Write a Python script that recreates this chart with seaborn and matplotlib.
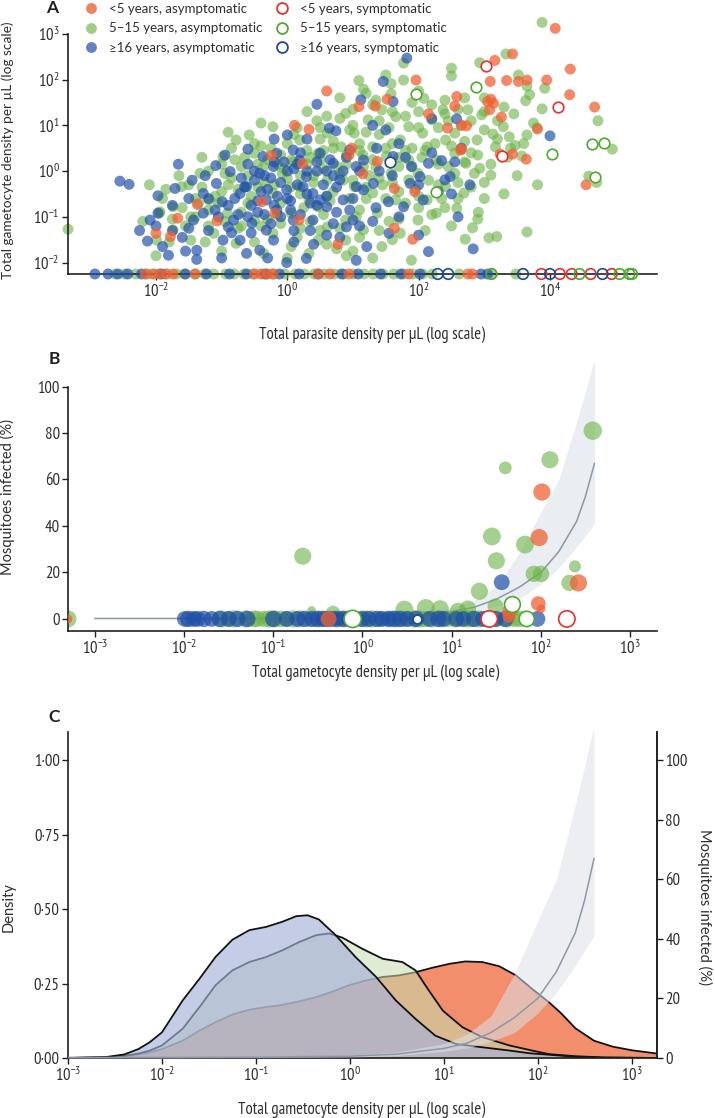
import numpy as np
import pandas as pd
import seaborn as sns
import matplotlib.pyplot as plt
from matplotlib import font_manager as fm
from matplotlib.lines import Line2D
from matplotlib.ticker import FixedLocator, FuncFormatter, NullLocator

# ---------------- data (log10 values) ----------------
# Panel A: total parasite density (x) vs total gametocyte density (y)
a_u5_x = [4.08, 3.43, 3.16, 4.31, 1.96, 0.6, 3.09, 3.34, 3.52, 3.65, 3.95, 4.30, 4.68, 3.10, 3.05, 3.14,
          3.08, 2.58, 2.55, 1.52, 1.34, 1.09, 2.15, 3.26, 3.81, 2.44, 2.65, 2.73, 0.11, 0.33, 3.43, 3.64,
          4.55, 2.65, 0.98, 0.23, -0.24, 1.15, 1.94, 1.63, -1.37, -1.67, -2.0, -1.78, -1.07, -0.39, -0.19,
          0.18, 1.63, 1.91, 0.77, 1.37, 2.64, 3.24, 0.94]
a_u5_y = [3.12, 2.56, 2.42, 2.23, 1.99, 1.75, 1.96, 1.98, 1.96, 1.99, 1.99, 1.67, 1.40, 1.57, 1.52, 1.48,
          1.34, 1.63, 1.42, 1.57, 1.42, 1.41, 1.25, 1.18, 0.92, 0.94, 1.0, 0.99, 1.0, 0.91, 0.37, 0.26,
          -0.30, 0.48, 0.50, 0.16, 0.34, -0.06, -0.45, -0.38, -0.73, -1.03, -1.36, -1.43, -1.09, -0.67, -0.92,
          -1.07, -1.25, -1.49, -1.60, 0.21, 0.46, 0.37, 0.35]
a_515_x = [3.88, 3.33, 2.93, 2.50, 2.50, 1.77, 1.77, 1.09, 1.16, 1.58, 1.58, 2.08, 3.52, 3.65, 3.69, 3.88,
           3.92, 3.63, 4.73, 4.95, 4.59, 4.71, 3.81, 3.65, 3.19, 3.07, 2.71, 2.91, 2.82, 2.58, 1.89, -3.34,
           3.65, 3.47, 3.57, 3.10, 2.93, 2.72, 3.13, 3.29, 3.38, 2.96, 2.75, 2.37, 2.20, 2.06, 2.41, 2.55,
           2.27, 1.85, 1.72, 1.65, 1.44, 1.23, 1.02, 0.89, 0.61, 0.82, 1.30, 1.51, 1.85, 1.65, 2.13, 2.41,
           2.27, 1.37, 1.16, 0.89, 0.47, 0.06, -0.36, -0.78, -1.12, -1.47, -1.74, -1.95, -1.61, -1.33, -0.98,
           -0.78, -0.58, -0.22, 0.19, 0.47, 0.06, -0.36, -0.64, -0.22, 0.19, 0.61, 1.02, 1.30, 0.47, 0.06,
           -0.50, -0.91, -1.19, 0.89, 0.61, 0.33, -0.08, -0.50, 0.75, 1.16, 1.58, 1.99, 2.55, 2.13, 2.55,
           1.85, 2.89, 3.17, 2.69, 1.99, 1.72, 1.44, 0.33, -0.22, -1.47, -1.74, -1.94, -1.99,
           -0.7, -0.4, 0.0, 0.3, 0.55, 0.9, 1.1, 1.4, 1.25, 0.95, 0.7, 0.2, -0.1, -0.6, -1.0, -1.35, -1.55,
           -0.3, 0.35, 1.1, 1.5, 1.9, 2.3, 2.0, 1.35, 0.45, -0.1, -0.85, 0.15, 1.7, 2.45, 2.8, 2.3, 1.55,
           0.75, -0.75, -1.25, -1.8, -1.2, 0.55, 2.65, 3.3, 3.0, 2.0, 1.3, 0.8, 0.5, 1.6,
           -1.5, -1.4, -1.2, -1.05, -0.95, -0.85, -0.7, -0.65, -0.55, -0.45, -0.35, -0.25, -0.15, -0.05,
           0.05, 0.1, 0.25, 0.35, 0.4, 0.55, 0.65, 0.7, 0.85, 0.95, 1.05, 1.15, 1.2, 1.35, 1.45, 1.55, 1.7,
           1.8, 1.95, 2.05, 2.15, 2.25, 2.35, 2.45, 2.6, 2.7, 2.85, 3.0, 3.2, 3.35, 3.0, 2.5, 2.1, 1.6, 1.0,
           0.6, 0.15, -0.5, -1.0, -1.65, -1.85, -2.2, -2.0, -1.3, -0.9, -0.4, 0.3, 0.6, 1.0, 1.2, 1.5, 1.9,
           2.4, 2.7, 3.45, 3.75, 3.5, 3.3, 2.9]
a_515_y = [3.25, 2.56, 2.37, 2.25, 2.08, 2.36, 1.99, 1.98, 1.79, 1.91, 1.69, 1.59, 2.10, 1.86, 1.67, 1.36,
           1.81, 1.54, 1.10, 0.48, -0.11, -0.25, -0.30, -1.33, -1.43, -1.46, -1.49, -0.90, -1.24, -0.81, -1.95,
           -1.27, 0.79, 0.56, 0.33, -0.09, 0.06, 0.17, 0.81, 0.97, 0.75, 1.23, 1.34, 1.34, 1.12, 0.83, 0.68,
           0.39, 0.24, 0.24, 0.68, 1.19, 1.34, 1.12, 0.83, 1.26, 0.83, 0.53, 0.53, 0.32, -0.19, -0.63, -0.63,
           -0.34, -0.92, -0.92, -1.29, -1.51, -1.51, -1.65, -1.80, -1.58, -1.36, -1.51, -1.29, -0.92, -0.34,
           -0.05, 0.32, 0.68, 0.79, 0.97, 0.68, 0.39, 0.24, 0.10, -0.34, -0.48, -0.34, -0.19, -0.34, -0.48,
           -0.78, -0.92, -1.07, -0.92, -0.63, -1.07, -1.22, -0.63, -0.05, 0.39, 0.10, 0.10, -0.05, -0.05,
           -0.05, 0.53, 0.83, 0.97, 0.68, 0.53, -0.48, -1.07, -1.36, -1.65, -1.80, -1.36, -1.0, -0.78, -0.89,
           -1.51, 0.1, 0.55, 0.6, 0.15, 0.45, 0.35, 0.6, 0.8, -0.1, -0.6, -0.45, -0.1, -0.7, -0.7, -0.45,
           -0.7, -1.2, -1.05, -1.1, -0.85, -0.6, 0.5, 0.95, 1.3, 1.55, 1.1, 0.35, -0.15, 0.95, 0.1, 0.1, 0.4,
           -0.3, -1.1, -1.7, -1.25, -1.55, -1.55, 0.0, -0.95, 1.0, 1.4, 1.6, 1.75, 1.45, 1.6, 0.7, 0.6,
           -0.3, -0.6, -1.2, -0.7, -0.05, 0.5, -0.9, 0.3, -0.55, 0.15, -0.25, 0.5, -0.95, 0.05,
           -0.35, 0.8, -0.8, 0.3, -0.25, 0.05, -0.65, 0.65, -0.2, 0.9, -1.0, 0.35, -0.6, 0.1, -0.3, 0.95, -0.45,
           0.45, -0.4, 0.3, -0.2, 0.6, -0.6, 1.1, -0.25, 0.65, -0.05, 0.9, 1.1, 0.3, -0.6, -1.2, -1.3, -1.5,
           -1.75, -1.6, -1.45, -1.55, -1.75, -0.1, -0.4, -1.1, -1.85, 0.3, 0.85, 1.05, 1.3, 1.2, 1.35, 1.7,
           2.1, 1.5, 1.55, 1.6, 1.25, 1.05, -0.1, -0.5, -1.05]
# denser core of the 5-15 cloud
a_515_core_x = [0.1, 0.3, 0.5, 0.7, 0.9, 1.1, 1.3, 1.5, 1.7, 1.9, 2.1, 2.3, 2.5, 2.7, 2.9, 3.1,
                0.2, 0.4, 0.6, 0.8, 1.0, 1.2, 1.4, 1.6, 1.8, 2.0, 2.2, 2.4, 2.6, 2.8, 3.0,
                0.5, 0.8, 1.0, 1.2, 1.4, 1.6, 1.8, 2.0, 2.2, 2.4, 2.6, 2.8, 3.0, 3.2, 3.4, 3.6, 3.8,
                -1.3, -1.1, -0.9, -0.75, -0.6, -0.45, -0.3, -0.15, 0.0, -1.0, -0.8, -0.5, -0.2,
                -1.6, -1.4, -1.2, -0.95, -0.7, -0.4, -0.1, 0.2, 0.5, 0.8, 1.1, 1.4, 1.7, 2.0,
                -1.9, -2.1, -1.75, 0.0, 0.9, 1.3]
a_515_core_y = [0.2, 0.45, 0.25, 0.5, 0.15, 0.45, 0.25, 0.5, 0.3, 0.1, 0.45, 0.15, 0.55, 0.2, 0.35, 0.15,
                -0.5, -0.1, -0.55, -0.05, -0.2, -0.35, -0.15, -0.25, -0.7, -0.55, -0.95, -0.8, -0.6, -0.35,
                -0.25, 0.95, 1.15, 1.0, 0.85, 1.1, 1.3, 1.2, 0.95, 1.45, 1.25, 1.35, 1.1, 1.3, 0.7, 0.5, 0.6,
                0.95, -0.35, -0.55, -0.3, -0.4, -0.1, -0.35, 0.25, 0.15, -0.15, 0.15, 0.25, 0.6, -0.3,
                -0.8, -1.0, -0.85, -1.1, -1.2, -1.2, -1.15, -1.25, -1.3, -1.25, -1.45, -1.3, -1.05, -0.8,
                -0.6, -0.3, -1.05, -1.9, -1.85, -1.9]
a_16_x = [-2.55, -2.41, -1.66, -1.09, -1.97, -1.71, -2.09, -1.97, -2.13, -1.81, -1.38, -1.38, -1.28, -0.99,
          -0.98, -0.90, -0.72, -0.42, -0.32, -0.60, 0.0, 0.45, 0.64, 0.74, 1.12, -0.87, -0.62, -0.42, -0.21,
          -0.01, 0.09, 0.19, 0.29, 0.39, 0.60, 0.80, 0.85, 1.0, 1.05, 0.90, 0.29, -0.01, 1.05, -0.32, -0.16,
          -0.54, -0.72, -1.08, -1.28, -1.43, -0.82, 0.09, 0.39, -0.21, -0.62, 1.21, 0.50, 0.70, 0.95, -0.16,
          -0.37, 0.24, 0.50, 1.82, 1.46, 1.61, 2.20, 2.58, 1.50, 1.36, 1.61, 1.89, 2.15, 2.35, 2.65, 2.40,
          2.78, 2.48, 1.16, 1.16, 1.31, 1.54, 1.77, 2.07, 2.60, 1.55, 2.15, 2.83, 4.0, 1.87, 2.02,
          -0.5, -0.1, 0.1, -0.3, 0.0, -0.45, -1.1, -1.5, -1.6, 0.6, -0.2,
          -0.8, -0.7, -0.55, -0.4, -0.25, -0.15, -0.05, 0.05, 0.15, 0.2, 0.35, 0.45, 0.55, 0.65, 0.75, 0.85,
          1.0, 1.1, -1.2, -1.0, -0.3, 0.4, 0.8, -1.75, -1.55, -2.25, -0.95, -0.6, 0.3, 1.3, 1.7, 2.3, 2.55,
          2.0, 1.3, 0.1]
a_16_y = [-0.22, -0.29, 0.15, 0.12, -0.54, -0.38, -1.07, -0.92, -1.53, -1.84, -1.93, -1.73, -0.92, -0.67,
          -1.51, -1.22, -1.51, -1.73, -1.29, 0.48, 0.79, 1.46, 0.94, 0.88, 1.56, -0.01, -0.34, -0.05, 0.10,
          -0.41, 0.46, 0.24, -0.12, -0.49, -0.78, -0.19, -0.63, -1.07, -0.34, -1.22, -1.91, -2.0, -1.95,
          -0.63, -0.85, -1.14, -0.49, -0.27, -0.49, -1.07, -1.07, -1.07, -1.07, -1.51, -1.80, -1.65, 0.39,
          0.17, 0.46, 0.39, 0.32, -0.34, -0.63, 2.47, 1.96, 1.52, 1.15, 1.14, 0.90, 0.50, 0.32, 0.10, 0.17,
          0.23, 0.50, -0.19, -0.30, -0.12, 0.24, -0.41, -0.27, -0.67, -0.78, -0.63, -1.0, -1.36, -1.76, -1.70,
          0.77, -0.27, -0.12, -0.2, -0.25, 0.05, -0.4, -0.6, -0.9, -0.85, -0.6, -1.45, -1.4, 0.7,
          -0.6, -0.15, -0.75, -0.45, -0.15, -0.55, 0.2, -0.85, -0.3, 0.4, -0.7, 0.0, -0.3, 0.25, -0.9, 0.0,
          -0.6, 0.0, -1.3, -1.9, -1.9, -1.6, -1.45, -0.75, -1.75, -1.3, 0.35, 0.15, 0.7, 1.0, 0.6, -0.45, 0.2,
          -1.4, -1.1, -1.3]
# denser core of the >=16 cloud
a_16_core_x = [-0.9, -0.75, -0.6, -0.45, -0.35, -0.2, -0.1, 0.05, 0.2, 0.3, 0.45, 0.6, 0.75, 0.95,
               -1.2, -1.05, -0.85, -0.55, -0.25, 0.1, 0.35, 0.7, 1.1,
               -0.65, -0.5, -0.35, -0.2, 0.0, 0.15, 0.3, 0.45, 0.6, 0.7, 0.9, 1.05,
               -1.45, -1.25, -1.5, -1.75, -1.9, -2.0, 1.4, 1.6, 1.8, 2.0, 2.2, 2.5, 1.7, 1.35]
a_16_core_y = [-0.75, -0.95, -1.0, -0.65, -0.95, -0.75, -1.0, -0.65, -0.95, -0.5, -0.75, -0.55, -0.35, -0.85,
               -0.6, -1.0, -1.35, -1.35, -1.15, -1.55, -1.3, -1.15, -1.2,
               -0.35, 0.0, -0.1, 0.2, 0.0, 0.15, 0.0, 0.2, 0.0, -0.1, 0.3, 0.1,
               -0.2, -0.1, -1.25, -1.3, -1.65, -1.2, 0.0, -0.1, 0.3, -0.3, 0.4, -0.5, -1.0, -0.8]
# zero gametocytes (sit on the x axis)
a_u5_zero_x = [-2.16, -2.05, -1.95, -1.84, -1.74, -1.4, -0.5, -0.4, -0.3, -0.22, 0.47, 0.65, 0.94, 1.85, 2.75, 2.82]
a_515_zero_x = [-2.62, -2.47, -2.31, -2.14, -2.02, -1.86, -1.69, -1.57, -1.41, -1.26, -1.12, -0.94, -0.81,
                -0.66, -0.52, -0.36, -0.21, -0.04, 0.12, 0.26, 0.41, 0.56, 0.72, 0.86, 1.01, 1.17, 1.31,
                1.46, 1.62, 1.77, 1.91, 2.06, 2.21, 2.62, 3.12, 3.48]
a_16_zero_x = [-2.93, -2.73, -2.58, -2.43, -2.22, -1.92, -1.55, -1.23, -0.88, -0.62, -0.33, -0.12, 0.18,
               0.47, 0.83, 1.08, 1.42, 1.73, 2.02, 2.95, 3.05]
# symptomatic
s_u5_x, s_u5_y = [3.02, 4.12, 3.27], [2.29, 1.40, 0.34]
s_515_x = [1.96, 2.88, 4.64, 4.82, 4.03, 4.69, 2.26]
s_515_y = [1.68, 1.83, 0.59, 0.62, 0.37, -0.12, -0.45]
s_16_x, s_16_y = [1.56], [0.19]
s_u5_zero_x = [3.87, 4.15, 4.33, 4.62, 4.94]
s_515_zero_x = [3.11, 4.45, 5.06, 5.21, 5.25]
s_16_zero_x = [2.29, 2.45, 3.59, 4.0, 4.80]

# Panel B: gametocyte density (log10) vs mosquitoes infected (%), n = mosquitoes dissected
b_515_x = [-0.67, 1.6, 2.1, 2.58, 1.45, 1.82, 1.50, 1.92, 2.0, 2.38, 2.32, 1.31, 1.49, -0.57, 0.47, 0.71,
           0.87, 1.07, 1.18, -0.33, -1.58, -1.44, -1.31, -1.18, -1.04, -0.91, -0.78, -0.29, -0.02, 0.11,
           0.38, 0.51, 0.64, 0.78, 0.96, 1.04, 1.22, 1.31, 1.62, 1.76, -3.3,
           -1.5, -1.22, -1.1, -0.98, -0.85, -0.7, -0.6, -0.5, -0.42, -0.2, -0.1, 0.05, 0.2, 0.3, 0.45, 0.58,
           0.7, 0.88, 1.1, 1.18, 1.4, 1.5, 1.7]
b_515_y = [27, 65, 68.5, 81, 35.5, 32, 25, 19.4, 19.4, 22.6, 15.5, 11.9, 5.4, 3.6, 4.0, 4.7, 4.3, 3.3, 4.3,
           2.6] + [0] * 21 + [0] * 23
b_515_n = [45, 30, 45, 50, 48, 48, 45, 42, 42, 28, 42, 45, 40, 20, 48, 48, 46, 44, 44, 35, 45, 45, 45, 42,
           45, 42, 45, 45, 40, 45, 45, 42, 45, 45, 42, 45, 42, 45, 45, 42, 45,
           42, 44, 42, 45, 42, 44, 42, 45, 42, 44, 42, 45, 42, 44, 42, 45, 42, 44, 42, 45, 42, 44, 42]
b_u5_x = [2.01, 1.98, 2.42, 1.97, 2.0, 1.65, 1.64, -0.38, -3.3]
b_u5_y = [54.6, 35, 15.5, 6.6, 4.3, 3.3, 1.1, 0, 0]
b_u5_n = [45, 45, 45, 36, 20, 38, 30, 40, 20]
b_16_x = [1.56, -1.99, -1.89, -1.78, -1.69, -1.29, -1.0, -0.73, -0.56, -0.44, -0.33, -0.22, 0.07, 0.16,
          0.29, 0.42, 0.91, 1.13, 1.49, 1.96,
          -1.95, -1.85, -1.6, -1.5, -1.4, -0.85, -0.65, -0.5, -0.38, -0.28, -0.15, -0.08, 0.0, 0.22, 0.35,
          0.5, 0.6, 0.75, 0.85, 1.05, 1.25, 1.35, 1.6]
b_16_y = [15.8] + [0] * 19 + [0] * 23
b_16_n = [40, 40, 40, 42, 40, 42, 42, 40, 42, 42, 40, 42, 40, 42, 40, 42, 40, 40, 40, 40,
          42, 40, 42, 40, 42, 40, 42, 40, 42, 40, 42, 40, 42, 40, 42, 40, 42, 40, 42, 40, 42, 40, 42]
bs_515_x, bs_515_y, bs_515_n = [-0.11, 1.68, 1.84], [0, 6.2, 0], [45, 40, 38]
bs_u5_x, bs_u5_y, bs_u5_n = [1.42, 2.29], [0, 0], [42, 42]
bs_16_x, bs_16_y, bs_16_n = [0.61], [0], [20]

# fitted infectivity curve with 95% CI (%)
curve_x = [-3.0, -2.0, -1.0, 0.0, 0.5, 1.0, 1.25, 1.5, 1.75, 2.0, 2.2, 2.4, 2.5, 2.6]
curve_mid = [0.2, 0.2, 0.3, 0.6, 1.3, 3.2, 5.0, 8.5, 13.5, 20, 29, 42, 53, 67]
curve_lo = [0.0, 0.0, 0.1, 0.3, 0.8, 2.2, 3.4, 5.5, 8.5, 15, 22, 31, 36, 41]
curve_hi = [0.5, 0.5, 0.6, 1.0, 2.0, 4.8, 8.0, 14, 28, 46, 60, 85, 98, 112]

# Panel C: density of gametocyte density by age group
kde_u5_x = [-3.0, -2.6, -2.4, -2.25, -2.13, -2.0, -1.78, -1.6, -1.43, -1.25, -1.07, -0.89, -0.72, -0.54,
            -0.36, -0.18, -0.01, 0.17, 0.35, 0.52, 0.7, 0.88, 1.06, 1.23, 1.41, 1.59, 1.77, 1.94, 2.12, 2.25,
            2.4, 2.6, 2.8, 3.0, 3.27]
kde_u5_y = [0.0, 0.002, 0.007, 0.012, 0.019, 0.03, 0.058, 0.092, 0.12, 0.146, 0.162, 0.171, 0.178, 0.19,
            0.204, 0.223, 0.244, 0.26, 0.272, 0.277, 0.288, 0.303, 0.316, 0.324, 0.322, 0.308, 0.277, 0.232,
            0.187, 0.15, 0.1, 0.058, 0.038, 0.026, 0.015]
kde_515_x = [-3.0, -2.6, -2.4, -2.25, -2.13, -2.0, -1.78, -1.6, -1.43, -1.25, -1.07, -0.89, -0.72, -0.54,
             -0.36, -0.22, -0.08, 0.13, 0.35, 0.56, 0.7, 0.84, 0.99, 1.2, 1.41, 1.7, 1.94, 2.12, 2.4, 2.7, 3.27]
kde_515_y = [0.0, 0.002, 0.007, 0.015, 0.025, 0.042, 0.098, 0.171, 0.244, 0.294, 0.322, 0.339, 0.361, 0.389,
             0.412, 0.418, 0.404, 0.367, 0.333, 0.322, 0.294, 0.227, 0.159, 0.103, 0.07, 0.042, 0.025, 0.013,
             0.006, 0.002, 0.0]
kde_16_x = [-3.0, -2.6, -2.4, -2.25, -2.13, -2.0, -1.78, -1.6, -1.43, -1.25, -1.07, -0.89, -0.72, -0.57,
            -0.45, -0.33, -0.15, 0.06, 0.28, 0.49, 0.7, 0.91, 1.13, 1.41, 1.7, 1.91, 2.12, 2.4, 2.7, 3.27]
kde_16_y = [0.0, 0.003, 0.012, 0.03, 0.053, 0.086, 0.193, 0.266, 0.339, 0.397, 0.429, 0.44, 0.457, 0.476,
            0.479, 0.465, 0.412, 0.339, 0.272, 0.193, 0.131, 0.075, 0.047, 0.036, 0.025, 0.016, 0.011, 0.004,
            0.001, 0.0]

labels = ["<5 years, asymptomatic", "5–15 years, asymptomatic", "≥16 years, asymptomatic",
          "<5 years, symptomatic", "5–15 years, symptomatic", "≥16 years, symptomatic"]

# ---------------- style ----------------
C_U5, C_515, C_16 = "#EF6234", "#6BB244", "#1F4FA8"
E_U5, E_515, E_16 = "#E8302A", "#4DAA2E", "#1A4C9A"
INK = "#231F20"
TXT = "#2E2E2E"

avail = {f.name for f in fm.fontManager.ttflist}
narrow = next((n for n in ["PT Sans Narrow", "Roboto Condensed", "Fira Sans Condensed", "Archivo Narrow",
                           "Encode Sans Condensed", "Asap Condensed", "Liberation Sans Narrow"] if n in avail),
              "DejaVu Sans")
NARROW = [narrow, "DejaVu Sans"]
HUMAN = ["Lato", "DejaVu Sans"]

sns.set_theme(style="ticks")
plt.rcParams["font.family"] = NARROW
plt.rcParams["mathtext.fontset"] = "custom"
plt.rcParams["mathtext.rm"] = narrow
plt.rcParams["mathtext.it"] = narrow + ":italic"
plt.rcParams["mathtext.bf"] = narrow + ":bold"

fig = plt.figure(figsize=(7.15, 11.18), dpi=100)
W, H = 715, 1118
TICK_SIZE = 12


def px_axes(left, right, top, bottom):
    return fig.add_axes([left / W, 1 - bottom / H, (right - left) / W, (bottom - top) / H])


def style_axis(ax):
    for s in ["top", "right"]:
        ax.spines[s].set_visible(False)
    for s in ["left", "bottom"]:
        ax.spines[s].set_color(INK)
        ax.spines[s].set_linewidth(1.2)
    ax.tick_params(direction="out", length=4, width=1, color=INK, labelcolor=TXT,
                   labelsize=TICK_SIZE, pad=2)
    ax.xaxis.set_minor_locator(NullLocator())
    ax.set_facecolor("none")


pow10 = FuncFormatter(lambda v, p: "$10^{%d}$" % round(np.log10(v)))


def place_labels(ax, xl, yl, xpos, ypos, ylab_size=10.5):
    ax.set_xlabel(xl, fontsize=12, color=TXT)
    ax.xaxis.set_label_coords(*xpos)
    ax.xaxis.label.set_va("center")
    ax.set_ylabel(yl, fontsize=ylab_size, family=HUMAN, color=TXT)
    ax.yaxis.set_label_coords(*ypos)
    ax.yaxis.label.set_va("center")


def scat(ax, xs, ys, **kw):
    df = pd.DataFrame({"x": 10.0 ** np.asarray(xs, float), "y": ys})
    sns.scatterplot(data=df, x="x", y="y", ax=ax, legend=False, **kw)


# ---------------- panel A ----------------
axA = px_axes(68, 657, 11, 274)
floor = -2.25
fill_kw = dict(s=62, linewidth=0, edgecolor="none", clip_on=False)
g_x = a_515_x + a_515_core_x
g_y = a_515_y + a_515_core_y
b_x = a_16_x + a_16_core_x
b_y = a_16_y + a_16_core_y
scat(axA, g_x, 10.0 ** np.array(g_y), color=C_515, alpha=0.6, zorder=2, **fill_kw)
scat(axA, b_x, 10.0 ** np.array(b_y), color=C_16, alpha=0.68, zorder=3, **fill_kw)
scat(axA, a_u5_x, 10.0 ** np.array(a_u5_y), color=C_U5, alpha=0.75, zorder=4, **fill_kw)
scat(axA, a_515_zero_x, [10.0 ** floor] * len(a_515_zero_x), color=C_515, alpha=0.6, zorder=2, **fill_kw)
scat(axA, a_16_zero_x, [10.0 ** floor] * len(a_16_zero_x), color=C_16, alpha=0.7, zorder=3, **fill_kw)
scat(axA, a_u5_zero_x, [10.0 ** floor] * len(a_u5_zero_x), color=C_U5, alpha=0.75, zorder=4, **fill_kw)
open_kw = dict(s=58, linewidth=1.2, clip_on=False, zorder=5)
for xs, ys, ec in [(s_u5_x, s_u5_y, E_U5), (s_515_x, s_515_y, E_515), (s_16_x, s_16_y, E_16)]:
    scat(axA, xs, 10.0 ** np.array(ys), facecolor="white", edgecolor=ec, **open_kw)
for xs, ec in [(s_u5_zero_x, E_U5), (s_515_zero_x, E_515), (s_16_zero_x, E_16)]:
    scat(axA, xs, [10.0 ** floor] * len(xs), facecolor="none", edgecolor=ec, **open_kw)

axA.set_xscale("log")
axA.set_yscale("log")
axA.set_xlim(10 ** -3.34, 10 ** 5.63)
axA.set_ylim(10 ** floor, 10 ** 3.5)
style_axis(axA)
axA.xaxis.set_major_locator(FixedLocator([1e-2, 1e0, 1e2, 1e4]))
axA.yaxis.set_major_locator(FixedLocator([1e-2, 1e-1, 1e0, 1e1, 1e2, 1e3]))
axA.yaxis.set_minor_locator(NullLocator())
axA.xaxis.set_major_formatter(pow10)
axA.yaxis.set_major_formatter(pow10)
axA.spines["left"].set_bounds(10 ** floor, 1e3)
place_labels(axA, "Total parasite density per µL (log scale)",
             "Total gametocyte density per µL (log scale)", (0.516, -0.232), (-0.102, 0.471), ylab_size=9.8)

handles = [
    Line2D([], [], ls="", marker="o", markersize=7.8, markerfacecolor=C_U5, markeredgecolor="none", alpha=0.8),
    Line2D([], [], ls="", marker="o", markersize=7.8, markerfacecolor=C_515, markeredgecolor="none", alpha=0.65),
    Line2D([], [], ls="", marker="o", markersize=7.8, markerfacecolor=C_16, markeredgecolor="none", alpha=0.7),
    Line2D([], [], ls="", marker="o", markersize=7.8, markerfacecolor="none", markeredgecolor=E_U5, markeredgewidth=1.3),
    Line2D([], [], ls="", marker="o", markersize=7.8, markerfacecolor="none", markeredgecolor=E_515, markeredgewidth=1.3),
    Line2D([], [], ls="", marker="o", markersize=7.8, markerfacecolor="none", markeredgecolor=E_16, markeredgewidth=1.3),
]
fig.legend(handles, labels, ncol=2, loc="upper left", bbox_to_anchor=(0.118, 0.9975), frameon=False,
           prop={"family": HUMAN, "size": 9.5}, handlelength=1.0, handletextpad=0.9, columnspacing=0.95,
           labelspacing=0.57, borderpad=0, borderaxespad=0, labelcolor=TXT)

# ---------------- panel B ----------------
axB = px_axes(68, 657, 363.3, 631)
cx = 10.0 ** np.array(curve_x)
axB.fill_between(cx, curve_lo, curve_hi, color="#DDE1E8", alpha=0.6, lw=0, zorder=1)
sns.lineplot(x=cx, y=curve_mid, ax=axB, color="#8D98A6", lw=1.1, zorder=1.5)


def scat_b(xs, ys, ns, **kw):
    df = pd.DataFrame({"x": 10.0 ** np.asarray(xs, float), "y": ys, "n": ns})
    sns.scatterplot(data=df, x="x", y="y", size="n", sizes=(40, 175), size_norm=(20, 50), ax=axB,
                    legend=False, **kw)


scat_b(b_515_x, b_515_y, b_515_n, color=C_515, alpha=0.6, linewidth=0, edgecolor="none", zorder=2)
scat_b(b_16_x, b_16_y, b_16_n, color=C_16, alpha=0.7, linewidth=0, edgecolor="none", zorder=3)
scat_b(b_u5_x, b_u5_y, b_u5_n, color=C_U5, alpha=0.75, linewidth=0, edgecolor="none", zorder=4)
for xs, ys, ns, ec in [(bs_515_x, bs_515_y, bs_515_n, E_515), (bs_u5_x, bs_u5_y, bs_u5_n, E_U5),
                       (bs_16_x, bs_16_y, bs_16_n, E_16)]:
    scat_b(xs, ys, ns, facecolor="white", edgecolor=ec, linewidth=1.2, zorder=5)

axB.set_xscale("log")
axB.set_xlim(10 ** -3.3, 10 ** 3.3)
axB.set_ylim(-5.2, 110)
style_axis(axB)
axB.xaxis.set_major_locator(FixedLocator(10.0 ** np.arange(-3, 4)))
axB.xaxis.set_major_formatter(pow10)
axB.set_yticks([0, 20, 40, 60, 80, 100])
axB.spines["left"].set_bounds(-5.2, 100)
place_labels(axB, "Total gametocyte density per µL (log scale)", "Mosquitoes infected (%)",
             (0.523, -0.157), (-0.102, 0.50))

# ---------------- panel C ----------------
axC = px_axes(68, 657, 732, 1058)
z = 1.0
for xs, ys, col, al in [(kde_u5_x, kde_u5_y, "#EF6234", 0.72), (kde_515_x, kde_515_y, "#C5DEAF", 0.55),
                        (kde_16_x, kde_16_y, "#A5B1D9", 0.65)]:
    xv = 10.0 ** np.array(xs)
    axC.fill_between(xv, 0, ys, color=col, alpha=al, lw=0, zorder=z)
    sns.lineplot(x=xv, y=ys, ax=axC, color="#111111", lw=1.3, zorder=z + 0.1)
    z += 0.2
axC.set_xscale("log")
axC.set_xlim(1e-3, 10 ** 3.27)
axC.set_ylim(0, 1.094)
style_axis(axC)
axC.spines["right"].set_visible(True)
axC.spines["right"].set_color(INK)
axC.spines["right"].set_linewidth(1.2)
axC.xaxis.set_major_locator(FixedLocator(10.0 ** np.arange(-3, 4)))
axC.xaxis.set_major_formatter(pow10)
axC.set_yticks([0, 0.25, 0.5, 0.75, 1.0])
axC.set_yticklabels(["0·00", "0·25", "0·50", "0·75", "1·00"])
place_labels(axC, "Total gametocyte density per µL (log scale)", "Density", (0.499, -0.16), (-0.100, 0.463))

axR = axC.twinx()
axR.fill_between(cx, curve_lo, curve_hi, color="#DDE1E8", alpha=0.55, lw=0)
sns.lineplot(x=cx, y=curve_mid, ax=axR, color="#8D98A6", lw=1.1)
axR.set_ylim(0, 109.4)
axR.set_yticks([0, 20, 40, 60, 80, 100])
for s in ["top", "left", "bottom"]:
    axR.spines[s].set_visible(False)
axR.spines["right"].set_color(INK)
axR.spines["right"].set_linewidth(1.2)
axR.tick_params(direction="out", length=4, width=1, color=INK, labelcolor=TXT, labelsize=TICK_SIZE, pad=2)
axR.set_ylabel("Mosquitoes infected (%)", fontsize=10.5, family=HUMAN, color=TXT, rotation=270)
axR.yaxis.set_label_coords(1.0815, 0.463)
axR.yaxis.label.set_va("center")

# panel letters
for letter, (x, y) in zip("ABC", [(52, 8), (54, 359), (54, 717)]):
    fig.text(x / W, 1 - y / H, letter, fontsize=12.5, fontweight="bold", family=["Lato", "DejaVu Sans"],
             color=INK, ha="center", va="center")

fig.savefig("out.png", dpi=100)
